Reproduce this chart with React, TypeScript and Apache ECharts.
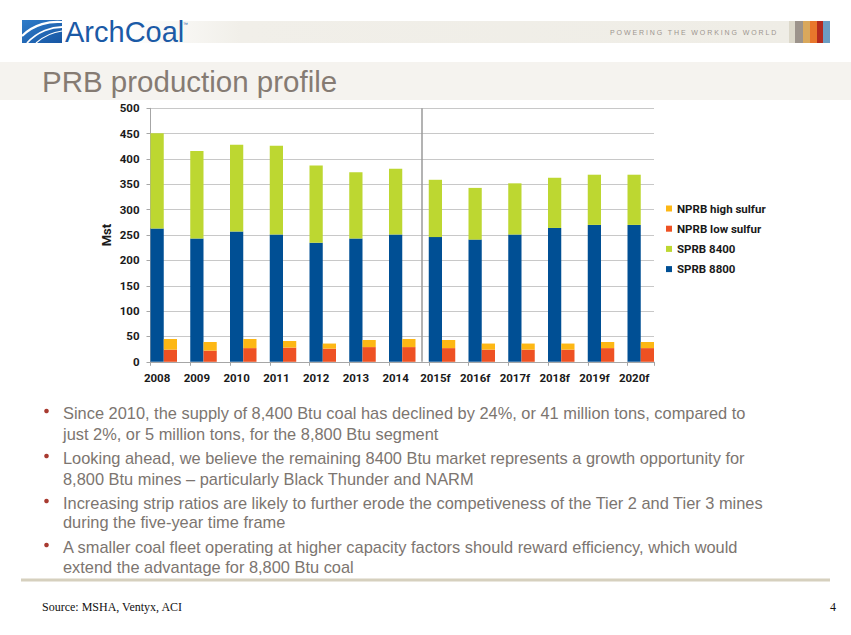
import React, { useEffect, useRef } from 'react';
import * as echarts from 'echarts';

// ---- data ----
const years = ['2008', '2009', '2010', '2011', '2012', '2013', '2014', '2015f', '2016f', '2017f', '2018f', '2019f', '2020f'];
const sprb8800 = [263, 243, 257, 251, 235, 243, 251, 246, 241, 251, 264, 270, 270];
const sprb8400 = [188, 173, 171, 175, 152, 131, 130, 113, 102, 101, 99, 99, 99];
const nprbLow = [24, 22, 27, 28, 26, 29, 29, 27, 24, 24, 24, 27, 27];
const nprbHigh = [21, 17, 18, 13, 10, 14, 16, 16, 12, 12, 12, 12, 12];
const yMin = 0;
const yMax = 500;
const yStep = 50;
const forecastStartYear = '2015f';

const title = 'PRB production profile';
const tagline = 'POWERING THE WORKING WORLD';
const bullets: string[][] = [
  ['Since 2010, the supply of 8,400 Btu coal has declined by 24%, or 41 million tons, compared to', 'just 2%, or 5 million tons, for the 8,800 Btu segment'],
  ['Looking ahead, we believe the remaining 8400 Btu market represents a growth opportunity for', '8,800 Btu mines \u2013 particularly Black Thunder and NARM'],
  ['Increasing strip ratios are likely to further erode the competiveness of the Tier 2 and Tier 3 mines', 'during the five-year time frame'],
  ['A smaller coal fleet operating at higher capacity factors should reward efficiency, which would', 'extend the advantage for 8,800 Btu coal'],
];
const source = 'Source: MSHA, Ventyx, ACI';
const pageNo = '4';

// ---- slot layout: each year = [SPRB stack, NPRB stack, gap] ----
const slots: string[] = [];
const s8800: (number | null)[] = [];
const s8400: (number | null)[] = [];
const nLow: (number | null)[] = [];
const nHigh: (number | null)[] = [];
years.forEach((y, i) => {
  slots.push(y);
  s8800.push(sprb8800[i]); s8400.push(sprb8400[i]); nLow.push(null); nHigh.push(null);
  slots.push(y + '#n');
  s8800.push(null); s8400.push(null); nLow.push(nprbLow[i]); nHigh.push(nprbHigh[i]);
  if (i < years.length - 1) {
    slots.push(y + '#gap');
    s8800.push(null); s8400.push(null); nLow.push(null); nHigh.push(null);
  }
});
const sepIndex = slots.indexOf(forecastStartYear) - 1;

const CHART_FONT = "Roboto, 'Liberation Sans', sans-serif";
const SANS = "'Liberation Sans', Arial, sans-serif";
const SERIF = "'Liberation Serif', 'Times New Roman', serif";
const BODY = '#7c7570';

export default function App() {
  const ref = useRef<HTMLDivElement>(null);
  useEffect(() => {
    if (!ref.current) return;
    const chart = echarts.init(ref.current, undefined, { renderer: 'svg' });
    const graphics: any[] = [];
    // header band
    graphics.push({
      type: 'rect', shape: { x: 120, y: 21, width: 669, height: 22 }, silent: true,
      style: { fill: new echarts.graphic.LinearGradient(0, 0, 1, 0, [
        { offset: 0, color: 'rgba(241,239,233,0)' }, { offset: 0.18, color: '#f1efe9' }, { offset: 1, color: '#efede6' },
      ]) },
    });
    const stripeCols = ['#dcd8ca', '#9c938b', '#d9a85c', '#e8772c', '#b42b1f', '#6c9dc3'];
    const stripeX = [789, 795, 803, 810, 817, 823, 830];
    stripeCols.forEach((c, i) => graphics.push({
      type: 'rect', silent: true, shape: { x: stripeX[i], y: 21, width: stripeX[i + 1] - stripeX[i], height: 22 }, style: { fill: c },
    }));
    // logo icon
    graphics.push({
      type: 'polygon', silent: true,
      shape: { points: [[22, 20], [62, 20], [62, 43], [22, 43]] },
      style: { fill: new echarts.graphic.LinearGradient(0, 0, 1, 1, [
        { offset: 0, color: '#2f7cc9' }, { offset: 1, color: '#1756a3' },
      ]) },
    });
    graphics.push({ type: 'bezierCurve', silent: true, shape: { x1: 22, y1: 36, x2: 62, y2: 22, cpx1: 34, cpy1: 24, cpx2: 50, cpy2: 21 }, style: { stroke: '#fff', lineWidth: 2.2, fill: 'none' } });
    graphics.push({ type: 'bezierCurve', silent: true, shape: { x1: 27, y1: 43, x2: 62, y2: 27, cpx1: 38, cpy1: 31, cpx2: 52, cpy2: 27 }, style: { stroke: '#fff', lineWidth: 1.8, fill: 'none' } });
    graphics.push({ type: 'bezierCurve', silent: true, shape: { x1: 36, y1: 43, x2: 62, y2: 31, cpx1: 44, cpy1: 36, cpx2: 54, cpy2: 32 }, style: { stroke: '#fff', lineWidth: 1.2, fill: 'none' } });
    graphics.push({ type: 'text', silent: true, x: 65, y: 32, style: { text: 'ArchCoal', font: `29px ${SANS}`, fill: '#1b5aa6', verticalAlign: 'middle', align: 'left' } });
    graphics.push({ type: 'text', silent: true, x: 183, y: 21, style: { text: '\u2122', font: `5px ${SANS}`, fill: '#1b5aa6', verticalAlign: 'top', align: 'left' } });
    // title band
    graphics.push({ type: 'rect', silent: true, shape: { x: 0, y: 62, width: 851, height: 38 }, style: { fill: '#f5f3ef' } });
    graphics.push({ type: 'text', silent: true, x: 42, y: 81, style: { text: title, font: `29.5px ${SANS}`, fill: '#857b73', verticalAlign: 'middle', align: 'left' } });
    // bullets
    const lineY = [[413, 434], [458, 479], [503, 522], [547, 567]];
    bullets.forEach((b, i) => {
      graphics.push({ type: 'circle', silent: true, shape: { cx: 46.5, cy: lineY[i][0] - 2, r: 2.3 }, style: { fill: '#a83a30' } });
      b.forEach((t, j) => graphics.push({
        type: 'text', silent: true, x: 63, y: lineY[i][j],
        style: { text: t, font: `16.4px ${SANS}`, fill: BODY, verticalAlign: 'middle', align: 'left' },
      }));
    });
    graphics.push({ type: 'line', silent: true, shape: { x1: 21, y1: 580, x2: 830, y2: 580 }, style: { stroke: '#d6d0be', lineWidth: 3 } });
    graphics.push({ type: 'text', silent: true, x: 42, y: 607, style: { text: source, font: `12px ${SERIF}`, fill: '#111', verticalAlign: 'middle', align: 'left' } });
    graphics.push({ type: 'text', silent: true, x: 836, y: 607, style: { text: pageNo, font: `12px ${SERIF}`, fill: '#111', verticalAlign: 'middle', align: 'right' } });

    const barBase = { type: 'bar', stack: 'total', barCategoryGap: '0%', barGap: '0%' };
    chart.setOption({
      animation: false,
      backgroundColor: '#ffffff',
      graphic: graphics,
      grid: { left: 150.5, top: 108.3, width: 503.5, height: 253.5, containLabel: false },
      legend: {
        orient: 'vertical', left: 661, top: 196.5, itemWidth: 6, itemHeight: 6, itemGap: 6.2, icon: 'rect',
        data: ['NPRB high sulfur', 'NPRB low sulfur', 'SPRB 8400', 'SPRB 8800'],
        textStyle: { fontFamily: CHART_FONT, fontWeight: 'bold', fontSize: 11.5, color: '#1a1a1a', lineHeight: 14 },
      },
      xAxis: {
        type: 'category', data: slots, boundaryGap: true,
        axisLine: { lineStyle: { color: '#a6a6a6', width: 1 } },
        axisTick: { show: true, interval: (i: number) => i % 3 === 0, length: 4, lineStyle: { color: '#a6a6a6' } },
        axisLabel: {
          interval: (i: number) => i % 3 === 0, margin: 10,
          formatter: (v: string) => (years.includes(v) ? v : ''),
          fontFamily: CHART_FONT, fontWeight: 'bold', fontSize: 11.5, color: '#1a1a1a',
        },
        splitLine: { show: false },
      },
      yAxis: {
        type: 'value', min: yMin, max: yMax, interval: yStep,
        name: 'Mst', nameLocation: 'middle', nameGap: 38, nameRotate: 90, nameMoveOverlap: false,
        nameTextStyle: { fontFamily: CHART_FONT, fontWeight: 'bold', fontSize: 13, color: '#1a1a1a' },
        axisLine: { show: true, lineStyle: { color: '#a6a6a6', width: 1 } },
        axisTick: { show: true, length: 4, lineStyle: { color: '#a6a6a6' } },
        axisLabel: { margin: 11, fontFamily: CHART_FONT, fontWeight: 'bold', fontSize: 11.5, color: '#1a1a1a' },
        splitLine: { lineStyle: { color: '#c8c8c8', width: 1 } },
      },
      series: [
        {
          ...barBase, name: 'SPRB 8800', data: s8800, itemStyle: { color: '#004f94' },
          markLine: {
            silent: true, symbol: ['none', 'none'], label: { show: false },
            lineStyle: { color: '#9a9a9a', width: 1.5, type: 'solid' },
            data: [{ xAxis: slots[sepIndex] }],
          },
        },
        { ...barBase, name: 'SPRB 8400', data: s8400, itemStyle: { color: '#bdd731' } },
        { ...barBase, name: 'NPRB low sulfur', data: nLow, itemStyle: { color: '#ee5123' } },
        { ...barBase, name: 'NPRB high sulfur', data: nHigh, itemStyle: { color: '#fdb714' } },
      ],
    });
    return () => chart.dispose();
  }, []);

  return (
    <div style={{ position: 'fixed', left: 0, top: 0, width: 851, height: 635, background: '#fff' }}>
      <div ref={ref} style={{ position: 'absolute', left: 0, top: 0, width: 851, height: 635 }} />
      <div style={{
        position: 'absolute', left: 610, top: 27, height: 12, lineHeight: '12px',
        fontFamily: SANS, fontSize: 7, letterSpacing: 1.9, color: '#9d958f', whiteSpace: 'nowrap',
      }}>{tagline}</div>
    </div>
  );
}
